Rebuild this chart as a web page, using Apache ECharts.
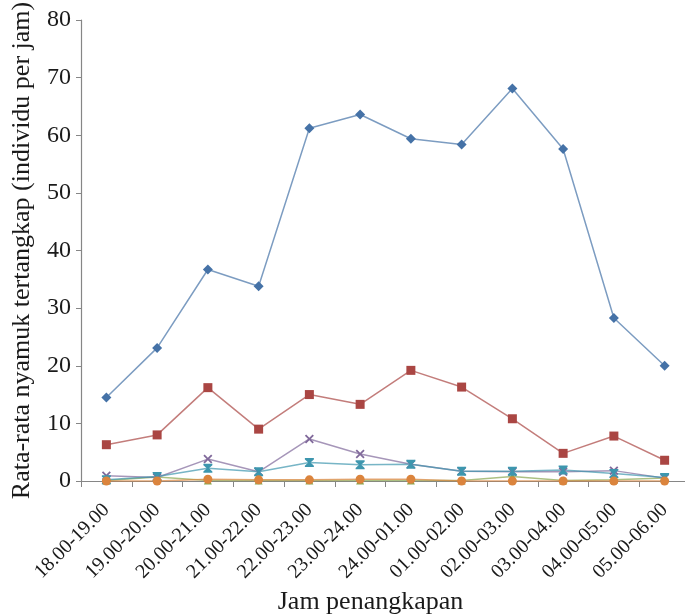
<!DOCTYPE html>
<html>
<head>
<meta charset="utf-8">
<script src="https://cdn.jsdelivr.net/npm/echarts@6/dist/echarts.min.js"></script>
<style>html,body{margin:0;padding:0;background:#fff}#c{width:685px;height:615px}</style>
</head>
<body>
<div id="c"></div>
<script>
var categories = ['18.00-19.00','19.00-20.00','20.00-21.00','21.00-22.00','22.00-23.00','23.00-24.00','24.00-01.00','01.00-02.00','02.00-03.00','03.00-04.00','04.00-05.00','05.00-06.00'];
var seriesBlue   = [14.5, 23.1, 36.7, 33.8, 61.2, 63.6, 59.4, 58.4, 68.1, 57.6, 28.3, 20.0];
var seriesRed    = [6.3, 8.0, 16.2, 9.0, 15.0, 13.3, 19.2, 16.3, 10.8, 4.8, 7.8, 3.6];
var seriesGreen  = [0.1, 0.7, 0.1, 0.1, 0.1, 0.1, 0.1, 0.1, 0.8, 0.1, 0.2, 0.5];
var seriesPurple = [0.9, 0.6, 3.8, 1.6, 7.3, 4.7, 2.9, 1.7, 1.6, 1.6, 1.8, 0.5];
var seriesTeal   = [0.2, 0.8, 2.2, 1.6, 3.2, 2.8, 2.9, 1.7, 1.7, 1.9, 1.3, 0.6];
var seriesOrange = [0.0, 0.0, 0.3, 0.2, 0.2, 0.3, 0.3, 0.0, 0.0, 0.0, 0.0, 0.0];
var yTicks = {min: 0, max: 80, interval: 10};

var FONT = '"Liberation Serif", "Times New Roman", serif';
var xPath = 'path://M0,1.4 L1.4,0 L5,3.6 L8.6,0 L10,1.4 L6.4,5 L10,8.6 L8.6,10 L5,6.4 L1.4,10 L0,8.6 L3.6,5 Z';
var starPath = 'path://M0,0 L10,0 L10,1.5 L6.2,5 L10,8.5 L10,10 L0,10 L0,8.5 L3.8,5 L0,1.5 Z';

function mk(name, data, color, symbol, size) {
  return {
    name: name, type: 'line', data: data,
    symbol: symbol, symbolSize: size,
    lineStyle: {color: color, width: 1.5, opacity: 0.7},
    itemStyle: {color: color},
    animation: false
  };
}

var chart = echarts.init(document.getElementById('c'));
chart.setOption({
  animation: false,
  grid: {left: 81, top: 20, width: 609, height: 461, containLabel: false, outerBoundsMode: 'none'},
  xAxis: {
    type: 'category', data: categories, boundaryGap: true,
    axisLine: {lineStyle: {color: '#868686', width: 1.2}},
    axisTick: {show: true, inside: false, length: 6, alignWithLabel: false, lineStyle: {color: '#868686'}},
    axisLabel: {rotate: 45, interval: 0, margin: 26, color: '#1a1a1a', fontFamily: FONT, fontSize: 20},
    name: 'Jam penangkapan', nameLocation: 'middle', nameGap: 100,
    nameTextStyle: {color: '#1a1a1a', fontFamily: FONT, fontSize: 26, padding: [0, 30, 0, 0]}
  },
  yAxis: {
    type: 'value', min: yTicks.min, max: yTicks.max, interval: yTicks.interval,
    splitLine: {show: false},
    axisLine: {show: true, lineStyle: {color: '#868686', width: 1.2}},
    axisTick: {show: true, length: 5, lineStyle: {color: '#868686'}},
    axisLabel: {margin: 10, color: '#1a1a1a', fontFamily: FONT, fontSize: 24},
    name: 'Rata-rata nyamuk tertangkap (individu per jam)', nameLocation: 'middle', nameGap: 46,
    nameTextStyle: {color: '#1a1a1a', fontFamily: FONT, fontSize: 26}
  },
  series: [
    mk('Seri 1', seriesBlue, '#4572A7', 'diamond', 10),
    mk('Seri 2', seriesRed, '#AA4643', 'rect', 9),
    mk('Seri 3', seriesGreen, '#89A54E', 'triangle', 8),
    mk('Seri 4', seriesPurple, '#80699B', xPath, 9),
    mk('Seri 5', seriesTeal, '#3D96AE', starPath, 9),
    mk('Seri 6', seriesOrange, '#DB843D', 'circle', 9)
  ]
});
</script>
</body>
</html>
